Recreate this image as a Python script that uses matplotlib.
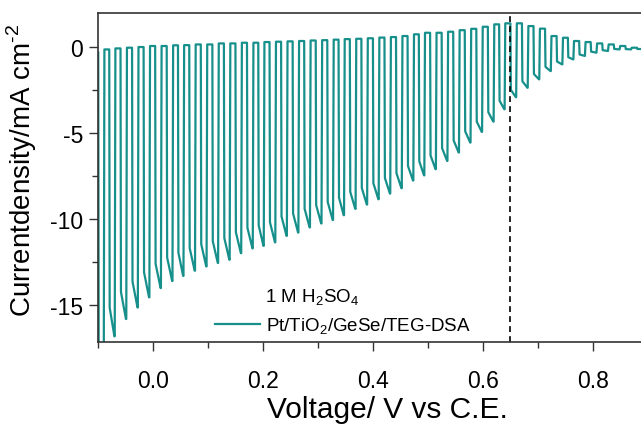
import matplotlib

matplotlib.use("Agg")
import matplotlib.pyplot as plt
from matplotlib.ticker import MultipleLocator, FormatStrFormatter

plt.rcParams["font.family"] = ["Liberation Sans", "DejaVu Sans"]
plt.rcParams["mathtext.fontset"] = "custom"
plt.rcParams["mathtext.rm"] = "Liberation Sans"
plt.rcParams["axes.unicode_minus"] = False

# Chopped-light LSV.
# voltage (V) at which each light-on period ends (the vertical jump back up)
chop_v = [-0.089, -0.069, -0.048, -0.027, -0.006, 0.015, 0.036, 0.056,
          0.077, 0.098, 0.119, 0.140, 0.161, 0.182, 0.202, 0.223,
          0.244, 0.265, 0.286, 0.307, 0.328, 0.348, 0.369, 0.390,
          0.411, 0.432, 0.453, 0.474, 0.494, 0.515, 0.536, 0.557,
          0.578, 0.599, 0.620, 0.640, 0.661, 0.682, 0.703, 0.724,
          0.745, 0.765, 0.786, 0.807, 0.828, 0.849, 0.870, 0.891]
# current density at the end of each light-on period (mA cm-2)
light_j = [-19.5, -16.82, -15.81, -15.14, -14.55, -14.01, -13.60, -13.30,
           -13.00, -12.75, -12.55, -12.36, -11.98, -11.70, -11.55, -11.35,
           -10.97, -10.78, -10.48, -10.25, -10.05, -9.77, -9.40, -9.15,
           -8.84, -8.51, -8.20, -7.75, -7.45, -7.09, -6.61, -6.12,
           -5.54, -4.92, -4.32, -3.60, -2.90, -2.35, -1.86, -1.38,
           -0.99, -0.70, -0.50, -0.31, -0.21, -0.12, -0.12, -0.10]
# dark current during the following light-off period (mA cm-2)
dark_j = [-0.12, -0.06, -0.02, 0.02, 0.08, 0.08, 0.12, 0.13,
          0.17, 0.17, 0.23, 0.23, 0.27, 0.27, 0.31, 0.33,
          0.35, 0.37, 0.40, 0.42, 0.45, 0.48, 0.50, 0.53,
          0.57, 0.60, 0.66, 0.76, 0.85, 0.85, 0.91, 1.00,
          1.08, 1.20, 1.34, 1.40, 1.40, 1.24, 1.09, 0.66,
          0.56, 0.37, 0.31, 0.23, 0.17, 0.08, -0.02, -0.05]
start_j = -0.30      # dark current before the first chop
onset_v = 0.65       # dashed marker
TEAL = "#17908c"

# build the square-wave trace from the per-period values
xs, ys = [], []
prev_dark = start_j
for i, (v, jl, jd) in enumerate(zip(chop_v, light_j, dark_j)):
    half = (chop_v[1] - chop_v[0]) / 2 if i == 0 else (v - chop_v[i - 1]) / 2
    v_on = v - half
    knee = prev_dark + 0.9 * (jl - prev_dark)
    xs += [v_on, v_on + 0.0008, v - 0.0006, v, v + 0.0012, v + half - 0.0012]
    ys += [prev_dark, knee, jl, jl, jd, jd]
    prev_dark = jd

fig = plt.figure(figsize=(6.41, 4.27), dpi=100)
ax = fig.add_axes([0.1524, 0.1967, 0.8476, 0.7705])

ax.plot(xs, ys, color=TEAL, lw=1.6, label="Pt/TiO$_2$/GeSe/TEG-DSA")
ax.axvline(onset_v, color="black", ls=(0, (3.5, 2.5)), lw=1.2)

ax.set_xlim(-0.1, 0.888)
ax.set_ylim(-17.15, 2.0)
ax.xaxis.set_major_locator(MultipleLocator(0.2))
ax.xaxis.set_minor_locator(MultipleLocator(0.1))
ax.xaxis.set_major_formatter(FormatStrFormatter("%.1f"))
ax.yaxis.set_major_locator(MultipleLocator(5))
ax.yaxis.set_minor_locator(MultipleLocator(2.5))

for side in ("left", "bottom", "top"):
    ax.spines[side].set_linewidth(1.2)
    ax.spines[side].set_color("#333333")
ax.spines["right"].set_visible(False)
ax.tick_params(which="major", direction="out", length=6.5, width=1.0,
               color="#333333", labelsize=16.5, pad=4)
ax.tick_params(which="minor", direction="out", length=4, width=1.0,
               color="#333333")
ax.tick_params(axis="x", which="major", pad=13)
ax.tick_params(top=False, right=False, which="both")

ax.set_xlabel("Voltage/ V vs C.E.", fontsize=21.5)
ax.set_ylabel(r"Currentdensity/mA cm$^{\text{-2}}$", fontsize=20)
ax.xaxis.set_label_coords(0.534, -0.204)
ax.yaxis.set_label_coords(-0.139, 0.526)
ax.xaxis.label.set_va("center")
ax.yaxis.label.set_va("center")

ax.text(0.308, 0.137, r"1 M H$_2$SO$_4$", transform=ax.transAxes,
        fontsize=13.5, ha="left", va="center")
ax.legend(loc="center left", bbox_to_anchor=(0.216, 0.049), frameon=False,
          fontsize=13.5, handlelength=2.4, handletextpad=0.3,
          borderpad=0, borderaxespad=0)

fig.savefig("out.png", dpi=100)
